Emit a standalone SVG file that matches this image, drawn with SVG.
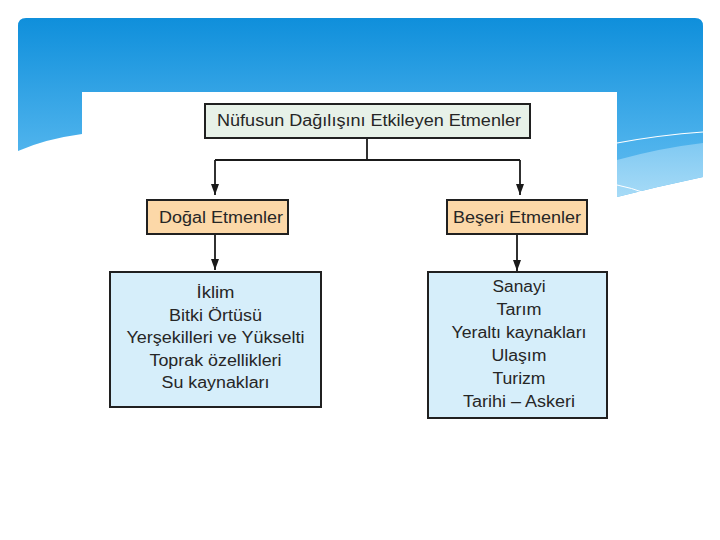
<svg xmlns="http://www.w3.org/2000/svg" width="720" height="540" viewBox="0 0 720 540">
  <style>
    .box { stroke: #202020; stroke-width: 2; }
    .title { fill: #e7f1e8; }
    .cat { fill: #fcd8a8; }
    .list { fill: #d6eefa; }
    .t { font-family: "Liberation Sans", Arial, sans-serif; font-size: 16px; fill: #262626; text-anchor: middle; }
    .conn { fill: none; stroke: #1a1a1a; stroke-width: 1.8; }
  </style>
  <defs>
    <linearGradient id="blue" gradientUnits="userSpaceOnUse" x1="0" y1="18" x2="0" y2="200">
      <stop offset="0" stop-color="#0f8fdb"/>
      <stop offset="0.7" stop-color="#4db2ec"/>
      <stop offset="1" stop-color="#66bdef"/>
    </linearGradient>
    <linearGradient id="light" gradientUnits="userSpaceOnUse" x1="0" y1="140" x2="0" y2="200">
      <stop offset="0" stop-color="#7ec8f2"/>
      <stop offset="1" stop-color="#a9dcf7"/>
    </linearGradient>
    <marker id="arr" markerUnits="userSpaceOnUse" markerWidth="11" markerHeight="8" refX="11" refY="4" orient="auto">
      <path d="M0,0 L11,4 L0,8 Z" fill="#1a1a1a"/>
    </marker>
  </defs>

  <rect x="0" y="0" width="720" height="540" fill="#ffffff"/>

  <!-- slide header band -->
  <path d="M18,26 Q18,18 26,18 H695 Q703,18 703,26 V177 Q660,186 617,197 V92 H82 V134 Q45,139 18,151 Z" fill="url(#blue)"/>
  <path d="M617,160 Q660,148 703,143 V177 Q660,186 617,197 Z" fill="url(#light)"/>
  <path d="M617,143 Q660,135 703,132" fill="none" stroke="#ffffff" stroke-width="1.2"/>
  <path d="M617,185 Q632,188 645,193" fill="none" stroke="#ffffff" stroke-width="1"/>

  <!-- connectors -->
  <g id="connectors">
    <path class="conn" d="M367,138 V160"/>
    <path class="conn" d="M215,160 H520"/>
    <path class="conn" d="M215,160 V195" marker-end="url(#arr)"/>
    <path class="conn" d="M520,160 V195" marker-end="url(#arr)"/>
    <path class="conn" d="M215,234 V270" marker-end="url(#arr)"/>
    <path class="conn" d="M517,234 V271" marker-end="url(#arr)"/>
  </g>

  <g id="node-title">
    <rect class="box title" x="205" y="104" width="325" height="34"/>
    <text class="t" x="369" y="126" textLength="304" lengthAdjust="spacingAndGlyphs">Nüfusun Dağılışını Etkileyen Etmenler</text>
  </g>

  <g id="node-dogal">
    <rect class="box cat" x="147" y="200" width="141" height="34"/>
    <text class="t" x="221" y="222.5" textLength="124" lengthAdjust="spacingAndGlyphs">Doğal Etmenler</text>
  </g>

  <g id="node-beseri">
    <rect class="box cat" x="447" y="200" width="140" height="34"/>
    <text class="t" x="517" y="222.5" textLength="128" lengthAdjust="spacingAndGlyphs">Beşeri Etmenler</text>
  </g>

  <g id="node-dogal-list">
    <rect class="box list" x="110" y="272" width="211" height="135"/>
    <text class="t" x="215.5" y="298" textLength="38" lengthAdjust="spacingAndGlyphs">İklim</text>
    <text class="t" x="215.5" y="320.5" textLength="93" lengthAdjust="spacingAndGlyphs">Bitki Örtüsü</text>
    <text class="t" x="215.5" y="343" textLength="178" lengthAdjust="spacingAndGlyphs">Yerşekilleri ve Yükselti</text>
    <text class="t" x="215.5" y="365.5" textLength="132" lengthAdjust="spacingAndGlyphs">Toprak özellikleri</text>
    <text class="t" x="215.5" y="388" textLength="108" lengthAdjust="spacingAndGlyphs">Su kaynakları</text>
  </g>

  <g id="node-beseri-list">
    <rect class="box list" x="428" y="272" width="179" height="146"/>
    <text class="t" x="519" y="292" textLength="53" lengthAdjust="spacingAndGlyphs">Sanayi</text>
    <text class="t" x="519" y="315" textLength="45" lengthAdjust="spacingAndGlyphs">Tarım</text>
    <text class="t" x="519" y="338" textLength="135" lengthAdjust="spacingAndGlyphs">Yeraltı kaynakları</text>
    <text class="t" x="519" y="361" textLength="55" lengthAdjust="spacingAndGlyphs">Ulaşım</text>
    <text class="t" x="519" y="384" textLength="53" lengthAdjust="spacingAndGlyphs">Turizm</text>
    <text class="t" x="519" y="407" textLength="112" lengthAdjust="spacingAndGlyphs">Tarihi – Askeri</text>
  </g>
</svg>
